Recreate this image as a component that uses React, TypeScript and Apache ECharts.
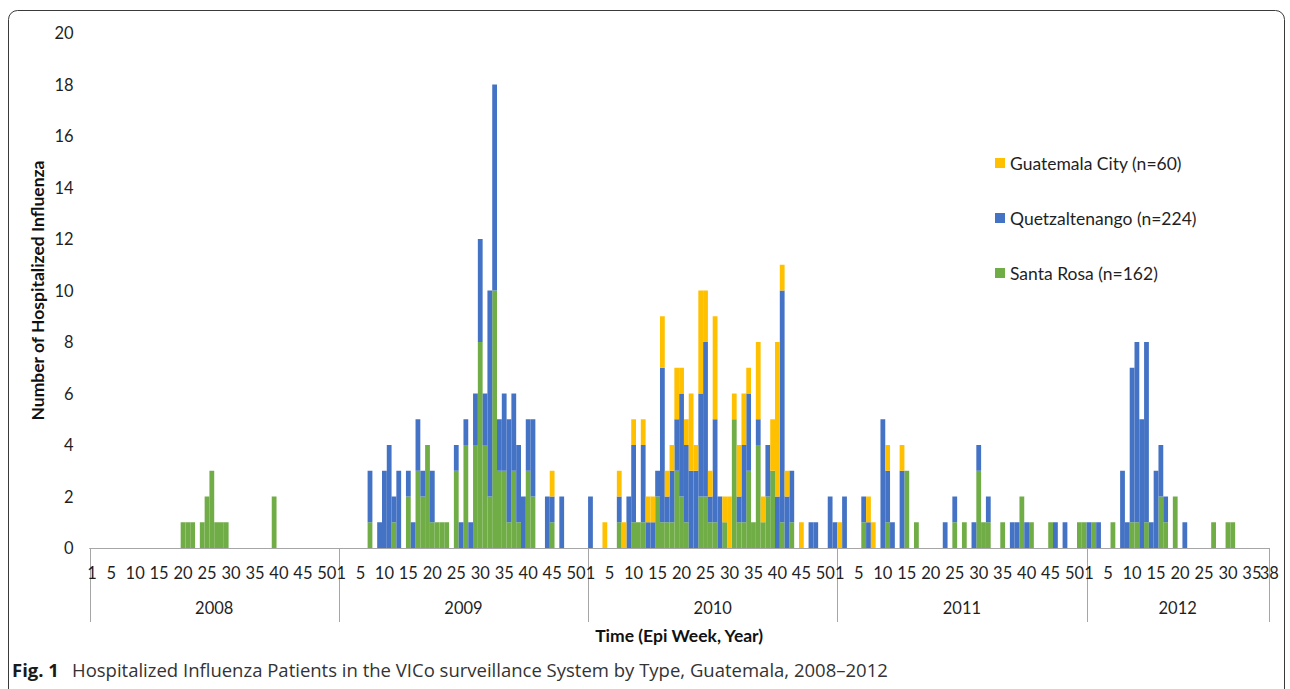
import React, { useEffect, useRef } from 'react';
import * as echarts from 'echarts';

// ---------- axis structure ----------
const YEAR_LABELS = ['2008', '2009', '2010', '2011', '2012'];
const WEEKS_IN_YEAR = [52, 52, 52, 52, 38];
const WEEK_LABEL_TICKS = [1, 5, 10, 15, 20, 25, 30, 35, 40, 45, 50];
const LAST_WEEK_LABEL = 38;
const Y_MIN = 0;
const Y_MAX = 20;
const Y_INTERVAL = 2;

const SERIES_NAMES = ['Guatemala City (n=60)', 'Quetzaltenango (n=224)', 'Santa Rosa (n=162)'];

// ---------- data: [epi week, hospitalized count] ----------
type WeekCount = [number, number];

const guatemala2008: WeekCount[] = [];
const guatemala2009: WeekCount[] = [[45, 1]];
const guatemala2010: WeekCount[] = [
  [4, 1], [7, 1], [8, 1], [10, 1], [12, 1], [13, 1], [14, 1], [16, 2], [17, 1], [18, 1],
  [19, 2], [20, 1], [21, 1], [22, 3], [23, 1], [24, 4], [25, 2], [26, 1], [27, 4], [29, 1],
  [30, 2], [31, 1], [32, 2], [33, 2], [34, 1], [36, 3], [37, 1], [39, 2], [40, 6], [41, 1],
  [42, 1], [45, 1],
];
const guatemala2011: WeekCount[] = [[1, 1], [7, 1], [8, 1], [11, 1], [14, 1]];
const guatemala2012: WeekCount[] = [];

const quetzaltenango2008: WeekCount[] = [];
const quetzaltenango2009: WeekCount[] = [
  [7, 2], [9, 1], [10, 3], [11, 4], [12, 1], [13, 3], [15, 1], [16, 1], [17, 2], [18, 1],
  [20, 2], [25, 1], [26, 1], [27, 1], [28, 1], [29, 2], [30, 4], [31, 2], [32, 8], [33, 8],
  [34, 2], [35, 3], [36, 4], [37, 3], [38, 3], [39, 2], [40, 2], [41, 3], [44, 2], [45, 1],
  [47, 2],
];
const quetzaltenango2010: WeekCount[] = [
  [1, 2], [7, 1], [9, 2], [10, 3], [12, 3], [13, 1], [14, 1], [15, 1], [16, 6], [17, 1],
  [18, 2], [19, 2], [20, 4], [21, 3], [22, 3], [23, 3], [24, 4], [25, 6], [26, 1], [27, 4],
  [28, 2], [32, 1], [33, 3], [34, 3], [36, 1], [38, 2], [40, 2], [41, 9], [42, 2], [43, 2],
  [47, 1], [48, 1], [51, 2], [52, 1],
];
const quetzaltenango2011: WeekCount[] = [
  [2, 2], [6, 1], [7, 1], [10, 5], [11, 2], [12, 1], [14, 3], [23, 1], [25, 1], [29, 1],
  [30, 1], [32, 1], [37, 1], [38, 1], [40, 1], [46, 1], [48, 1],
];
const quetzaltenango2012: WeekCount[] = [
  [1, 1], [3, 1], [8, 3], [9, 1], [10, 6], [11, 7], [12, 5], [13, 7], [14, 1], [15, 3],
  [16, 2], [17, 1], [21, 1],
];

const santaRosa2008: WeekCount[] = [
  [20, 1], [21, 1], [22, 1], [24, 1], [25, 2], [26, 3], [27, 1], [28, 1], [29, 1], [39, 2],
];
const santaRosa2009: WeekCount[] = [
  [7, 1], [12, 1], [15, 2], [17, 3], [18, 2], [19, 4], [20, 1], [21, 1], [22, 1], [23, 1],
  [25, 3], [27, 4], [29, 4], [30, 8], [31, 4], [32, 2], [33, 10], [34, 3], [35, 3], [36, 1],
  [37, 3], [38, 1], [40, 3], [41, 2], [45, 1],
];
const santaRosa2010: WeekCount[] = [
  [7, 1], [10, 1], [11, 1], [12, 1], [15, 2], [16, 1], [17, 1], [18, 1], [19, 3], [20, 2],
  [21, 1], [24, 2], [25, 2], [26, 1], [27, 1], [29, 1], [31, 5], [32, 1], [33, 1], [34, 3],
  [35, 1], [36, 4], [37, 1], [38, 2], [39, 3], [41, 1], [43, 1],
];
const santaRosa2011: WeekCount[] = [
  [6, 1], [11, 1], [15, 3], [17, 1], [25, 1], [27, 1], [30, 3], [31, 1], [32, 1], [35, 1],
  [39, 2], [41, 1], [45, 1], [51, 1], [52, 1],
];
const santaRosa2012: WeekCount[] = [
  [2, 1], [6, 1], [10, 1], [11, 1], [13, 1], [16, 2], [17, 1], [19, 2], [27, 1], [30, 1], [31, 1],
];

// ---------- builders ----------
const categories: string[] = YEAR_LABELS.flatMap((y, yi) =>
  Array.from({ length: WEEKS_IN_YEAR[yi] }, (_, k) => `${y}-${k + 1}`)
);

function buildSeries(byYear: WeekCount[][]): number[] {
  const out: number[] = [];
  YEAR_LABELS.forEach((_, yi) => {
    const arr = new Array(WEEKS_IN_YEAR[yi]).fill(0);
    byYear[yi].forEach(([w, c]) => {
      arr[w - 1] = c;
    });
    out.push(...arr);
  });
  return out;
}

const guatemalaData = buildSeries([guatemala2008, guatemala2009, guatemala2010, guatemala2011, guatemala2012]);
const quetzaltenangoData = buildSeries([
  quetzaltenango2008, quetzaltenango2009, quetzaltenango2010, quetzaltenango2011, quetzaltenango2012,
]);
const santaRosaData = buildSeries([santaRosa2008, santaRosa2009, santaRosa2010, santaRosa2011, santaRosa2012]);

const COLORS = { guatemala: '#FFC000', quetzaltenango: '#4472C4', santaRosa: '#70AD47' };
const FONT = 'Lato, "Liberation Sans", sans-serif';
const TEXT = '#1f1f1f';
const AXIS_GRAY = '#a6a6a6';
const TICK_FONT_SIZE = 16.5;
const TICK_MARGIN = 16;

export default function App() {
  const ref = useRef<HTMLDivElement>(null);

  useEffect(() => {
    if (!ref.current) return;
    const chart = echarts.init(ref.current, undefined, { renderer: 'svg' });

    const barBase = { type: 'bar' as const, stack: 'total', barCategoryGap: '0%', barGap: '0%' };

    chart.setOption({
      animation: false,
      backgroundColor: '#ffffff',
      grid: { left: 89.6, right: 21.3, top: 33, bottom: 141, containLabel: false, outerBoundsMode: 'none' },
      legend: {
        orient: 'vertical',
        left: 990,
        top: 149,
        itemWidth: 10,
        itemHeight: 10,
        itemGap: 37,
        icon: 'rect',
        data: SERIES_NAMES,
        textStyle: { fontFamily: FONT, fontSize: 17.5, color: TEXT },
      },
      xAxis: {
        type: 'category',
        data: categories,
        boundaryGap: true,
        axisLine: { show: true, lineStyle: { color: AXIS_GRAY, width: 1 } },
        axisTick: { show: false },
        axisLabel: {
          interval: (_idx: number, value: string) => {
            const wn = Number(value.split('-')[1]);
            return WEEK_LABEL_TICKS.includes(wn);
          },
          formatter: (value: string) => value.split('-')[1],
          showMaxLabel: true,
          showMinLabel: true,
          hideOverlap: false,
          fontFamily: FONT,
          fontSize: TICK_FONT_SIZE,
          color: TEXT,
          margin: TICK_MARGIN,
        },
        splitLine: { show: false },
      },
      yAxis: {
        type: 'value',
        min: Y_MIN,
        max: Y_MAX,
        interval: Y_INTERVAL,
        axisLine: { show: false },
        axisTick: { show: false },
        splitLine: { show: false },
        axisLabel: { fontFamily: FONT, fontSize: TICK_FONT_SIZE, color: TEXT, margin: 16 },
      },
      series: [
        { ...barBase, name: SERIES_NAMES[2], data: santaRosaData, itemStyle: { color: COLORS.santaRosa } },
        { ...barBase, name: SERIES_NAMES[1], data: quetzaltenangoData, itemStyle: { color: COLORS.quetzaltenango } },
        { ...barBase, name: SERIES_NAMES[0], data: guatemalaData, itemStyle: { color: COLORS.guatemala } },
      ],
    });

    // year separators and labels, placed through the axis scale
    const c0 = chart.convertToPixel({ xAxisIndex: 0 }, 0) as number;
    const c1 = chart.convertToPixel({ xAxisIndex: 0 }, 1) as number;
    const bw = c1 - c0;
    const left0 = c0 - bw / 2;
    const y0 = chart.convertToPixel({ yAxisIndex: 0 }, 0) as number;
    const yTop = chart.convertToPixel({ yAxisIndex: 0 }, Y_MAX) as number;

    const bounds: number[] = [0];
    WEEKS_IN_YEAR.forEach((n, i) => bounds.push(bounds[i] + n));

    const graphics: any[] = [];
    bounds.forEach((b) => {
      const x = Math.round(left0 + b * bw) + 0.5;
      graphics.push({
        type: 'line',
        silent: true,
        shape: { x1: x, y1: y0, x2: x, y2: y0 + 74 },
        style: { stroke: AXIS_GRAY, lineWidth: 1 },
      });
    });
    // final week label of the last (partial) year, set just right of the neighbouring "35"
    const lastIdx = categories.indexOf(`${YEAR_LABELS[YEAR_LABELS.length - 1]}-${LAST_WEEK_LABEL}`);
    const lastX = chart.convertToPixel({ xAxisIndex: 0 }, lastIdx) as number;
    graphics.push({
      type: 'text',
      silent: true,
      x: lastX + 3,
      y: y0 + TICK_MARGIN,
      style: {
        text: String(LAST_WEEK_LABEL),
        fontFamily: FONT,
        fontSize: TICK_FONT_SIZE,
        fill: TEXT,
        align: 'center',
        verticalAlign: 'top',
      },
    });
    YEAR_LABELS.forEach((yl, i) => {
      const xm = left0 + ((bounds[i] + bounds[i + 1]) / 2) * bw;
      graphics.push({
        type: 'text',
        silent: true,
        x: xm,
        y: y0 + 60,
        style: { text: yl, fontFamily: FONT, fontSize: TICK_FONT_SIZE, fill: TEXT, align: 'center', verticalAlign: 'middle' },
      });
    });
    const plotMid = left0 + (bounds[bounds.length - 1] / 2) * bw;
    graphics.push({
      type: 'text',
      silent: true,
      x: plotMid,
      y: y0 + 87,
      style: {
        text: 'Time (Epi Week, Year)',
        fontFamily: FONT,
        fontSize: 17.5,
        fontWeight: 'bold',
        fill: '#111111',
        align: 'center',
        verticalAlign: 'middle',
      },
    });
    graphics.push({
      type: 'text',
      silent: true,
      x: 37,
      y: (y0 + yTop) / 2,
      rotation: Math.PI / 2,
      style: {
        text: 'Number of Hospitalized Influenza',
        fontFamily: FONT,
        fontSize: 17.5,
        fontWeight: 'bold',
        fill: '#111111',
        align: 'center',
        verticalAlign: 'middle',
      },
    });
    // figure frame and caption
    graphics.push({
      type: 'rect',
      silent: true,
      shape: { x: 8.5, y: 10.5, width: 1276, height: 720, r: 9 },
      style: { fill: 'none', stroke: '#3a3a3a', lineWidth: 1 },
    });
    graphics.push({
      type: 'text',
      silent: true,
      x: 12,
      y: 669,
      style: {
        text: 'Fig. 1',
        fontFamily: '"Open Sans", sans-serif',
        fontSize: 18.5,
        fontWeight: 'bold',
        fill: '#1a1a1a',
        verticalAlign: 'middle',
      },
    });
    graphics.push({
      type: 'text',
      silent: true,
      x: 72,
      y: 669,
      style: {
        text: 'Hospitalized Influenza Patients in the VICo surveillance System by Type, Guatemala, 2008\u20132012',
        fontFamily: '"Open Sans", sans-serif',
        fontSize: 18.5,
        fill: '#333333',
        verticalAlign: 'middle',
      },
    });

    chart.setOption({ graphic: graphics });

    return () => {
      chart.dispose();
    };
  }, []);

  return (
    <div
      ref={ref}
      style={{ position: 'fixed', left: 0, top: 0, width: 1290, height: 689, background: '#fff' }}
    />
  );
}
